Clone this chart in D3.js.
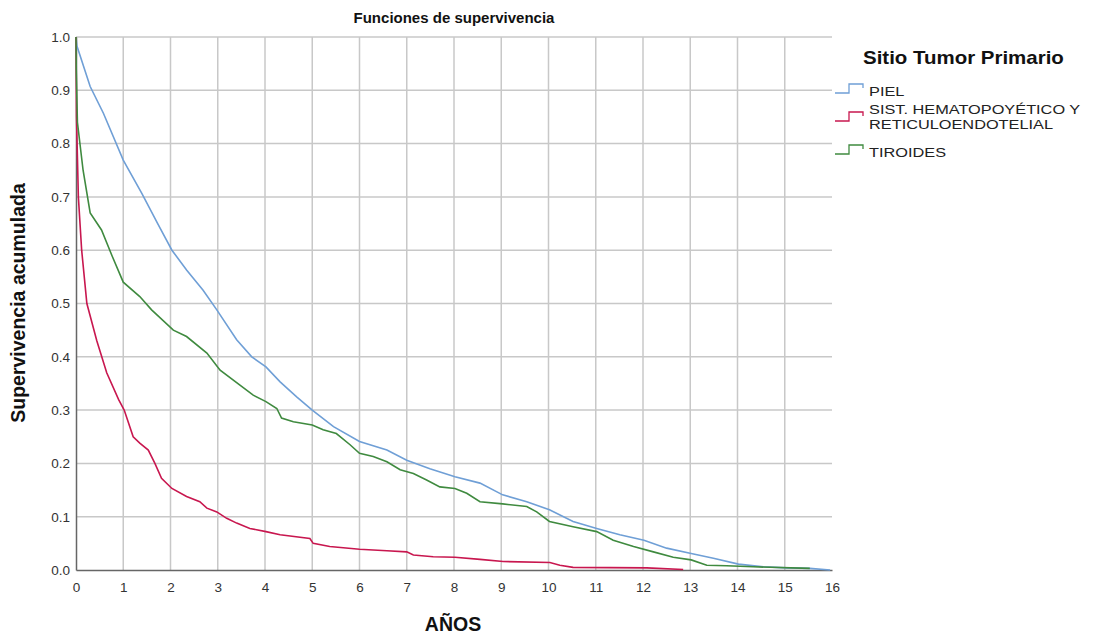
<!DOCTYPE html>
<html>
<head>
<meta charset="utf-8">
<script src="https://cdn.jsdelivr.net/npm/d3@7"></script>
<style>
  body { margin: 0; background: #fff; }
  svg text { font-family: "Liberation Sans", Arial, sans-serif; }
</style>
</head>
<body>
<svg id="chart" width="1102" height="635"></svg>
<script>
// survival curves (years, cumulative survival)
const pielT = [0, 0.02, 0.3, 0.58, 1.0, 1.39, 1.74, 2.03, 2.34, 2.69, 2.98, 3.4, 3.72, 4.02, 4.32, 4.67, 5.0, 5.45, 6.0, 6.58, 7.0, 7.49, 8.02, 8.55, 9.03, 9.54, 10.02, 10.52, 11.02, 11.51, 12.02, 12.5, 13.02, 13.49, 14.02, 14.55, 15.03, 15.53, 15.96];
const pielS = [1.0, 0.983, 0.907, 0.857, 0.769, 0.707, 0.648, 0.6, 0.563, 0.525, 0.488, 0.432, 0.40, 0.381, 0.353, 0.325, 0.30, 0.269, 0.241, 0.225, 0.206, 0.19, 0.175, 0.163, 0.141, 0.128, 0.113, 0.091, 0.078, 0.066, 0.056, 0.041, 0.031, 0.022, 0.011, 0.006, 0.004, 0.003, 0.0];

const hemaT = [0, 0.01, 0.05, 0.12, 0.23, 0.44, 0.65, 0.9, 1.02, 1.21, 1.35, 1.53, 1.67, 1.81, 2.03, 2.34, 2.62, 2.77, 2.98, 3.19, 3.4, 3.68, 4.02, 4.32, 4.95, 5.02, 5.37, 6.0, 6.58, 7.0, 7.14, 7.56, 8.02, 8.55, 9.04, 10.03, 10.24, 10.52, 12.08, 12.85];
const hemaS = [1.0, 0.85, 0.7, 0.6, 0.5, 0.43, 0.37, 0.32, 0.3, 0.25, 0.238, 0.225, 0.2, 0.172, 0.153, 0.138, 0.128, 0.116, 0.109, 0.097, 0.088, 0.078, 0.072, 0.066, 0.059, 0.05, 0.044, 0.039, 0.036, 0.034, 0.028, 0.025, 0.024, 0.02, 0.016, 0.014, 0.009, 0.005, 0.004, 0.001];

const tiroT = [0, 0.005, 0.03, 0.15, 0.3, 0.54, 0.76, 1.0, 1.35, 1.6, 2.06, 2.34, 2.77, 3.05, 3.47, 3.75, 4.02, 4.25, 4.35, 4.6, 5.0, 5.23, 5.51, 5.8, 6.0, 6.29, 6.58, 6.86, 7.14, 7.42, 7.7, 8.02, 8.27, 8.55, 9.03, 9.54, 9.75, 10.02, 10.52, 11.02, 11.37, 11.8, 12.22, 12.64, 13.02, 13.35, 13.77, 14.33, 15.53];
const tiroS = [1.0, 0.94, 0.84, 0.75, 0.67, 0.638, 0.59, 0.54, 0.513, 0.488, 0.45, 0.438, 0.407, 0.375, 0.347, 0.328, 0.316, 0.303, 0.285, 0.278, 0.272, 0.263, 0.256, 0.235, 0.219, 0.213, 0.203, 0.188, 0.181, 0.169, 0.156, 0.153, 0.144, 0.128, 0.124, 0.119, 0.109, 0.091, 0.081, 0.072, 0.056, 0.044, 0.034, 0.024, 0.019, 0.009, 0.008, 0.006, 0.003];

const seriesNames = [['PIEL'], ['SIST. HEMATOPOYÉTICO Y', 'RETICULOENDOTELIAL'], ['TIROIDES']];
const seriesColors = ['#6f9fd6', '#c8174f', '#3f8a3f'];
const xTicks = d3.range(0, 17);
const yTicks = d3.range(0, 11).map(d => d / 10);

const series = [
  { name: seriesNames[0], color: seriesColors[0], pts: pielT.map((t, i) => [t, pielS[i]]) },
  { name: seriesNames[1], color: seriesColors[1], pts: hemaT.map((t, i) => [t, hemaS[i]]) },
  { name: seriesNames[2], color: seriesColors[2], pts: tiroT.map((t, i) => [t, tiroS[i]]) }
];

const svg = d3.select('#chart');
const x = d3.scaleLinear().domain([0, 16]).range([76, 832]);
const y = d3.scaleLinear().domain([0, 1]).range([570, 37]);

// grid
svg.append('g').selectAll('line')
  .data(xTicks.filter(d => d > 0 && d < 16))
  .enter().append('line')
    .attr('x1', d => x(d)).attr('x2', d => x(d))
    .attr('y1', y(1)).attr('y2', y(0))
    .attr('stroke', '#c8c8c8').attr('stroke-width', 1.5);

svg.append('g').selectAll('line')
  .data(yTicks.filter(d => d > 0))
  .enter().append('line')
    .attr('x1', x(0)).attr('x2', x(16))
    .attr('y1', d => y(d)).attr('y2', d => y(d))
    .attr('stroke', '#c8c8c8').attr('stroke-width', 1.5);

// axes
const xAxis = svg.append('g')
  .attr('transform', `translate(0,${y(0)})`)
  .call(d3.axisBottom(x).tickValues(xTicks).tickSize(0).tickPadding(12).tickFormat(d3.format('d')));
const yAxis = svg.append('g')
  .attr('transform', `translate(${x(0)},0)`)
  .call(d3.axisLeft(y).tickValues(yTicks).tickSize(0).tickPadding(6).tickFormat(d3.format('.1f')));

[xAxis, yAxis].forEach(a => {
  a.select('.domain').attr('stroke', '#666').attr('stroke-width', 1.5);
  a.selectAll('text').attr('font-size', 13.5).attr('fill', '#333')
    .attr('font-family', '"Liberation Sans", Arial, sans-serif');
});

// curves
const line = d3.line().x(d => x(d[0])).y(d => y(d[1])).curve(d3.curveLinear);
svg.append('g').selectAll('path')
  .data(series)
  .enter().append('path')
    .attr('d', d => line(d.pts))
    .attr('fill', 'none')
    .attr('stroke', d => d.color)
    .attr('stroke-width', 1.6);

// titles
svg.append('text').attr('x', 454).attr('y', 23).attr('text-anchor', 'middle')
  .attr('font-size', 15).attr('font-weight', 'bold').attr('fill', '#111')
  .text('Funciones de supervivencia');
svg.append('text').attr('x', 453).attr('y', 631).attr('text-anchor', 'middle')
  .attr('font-size', 19.5).attr('font-weight', 'bold').attr('fill', '#111')
  .text('AÑOS');
svg.append('text')
  .attr('transform', 'translate(25,303) rotate(-90)')
  .attr('text-anchor', 'middle')
  .attr('font-size', 19.5).attr('font-weight', 'bold').attr('fill', '#111')
  .text('Supervivencia acumulada');

// legend
const legend = svg.append('g');
legend.append('text').attr('transform', 'translate(863,64) scale(1.17,1)')
  .attr('font-size', 17.5).attr('font-weight', 'bold').attr('fill', '#111')
  .text('Sitio Tumor Primario');

const rowY = [96, 114, 157];
series.forEach((s, i) => {
  const ly = rowY[i];
  const sy = i === 1 ? ly + 7 : ly - 3;
  legend.append('path')
    .attr('d', `M835,${sy}H849V${sy - 9}H863V${sy - 5}`)
    .attr('fill', 'none').attr('stroke', s.color).attr('stroke-width', 1.3);
  const t = legend.append('text').attr('transform', `translate(869,${ly}) scale(1.2,1)`)
    .attr('font-size', 13.6).attr('fill', '#222');
  s.name.forEach((p, j) => {
    t.append('tspan').attr('x', 0).attr('y', j * 15.2).text(p);
  });
});
</script>
</body>
</html>
